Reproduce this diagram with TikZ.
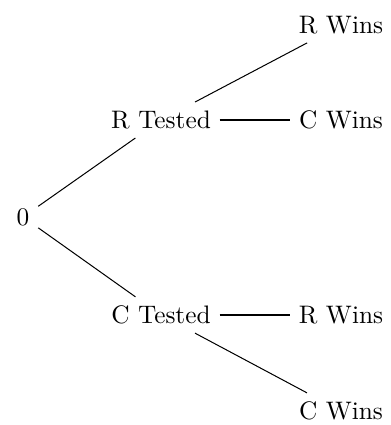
\documentclass[tikz,border=0pt]{standalone}
\begin{document}
\begin{tikzpicture}[x=0.395pt,y=-0.395pt]
\tikzset{lbl/.style={inner sep=3.33pt}}
\useasboundingbox (0,0) rectangle (391,425);
\node[lbl] (root) at (23,217) {0};
\node[lbl] (rt) at (161,120) {R Tested};
\node[lbl] (ct) at (161,315) {C Tested};
\node[lbl] (rw1) at (341,25) {R Wins};
\node[lbl] (cw1) at (341,120) {C Wins};
\node[lbl] (rw2) at (341,315) {R Wins};
\node[lbl] (cw2) at (341,411) {C Wins};
\draw (root) -- (rt);
\draw (root) -- (ct);
\draw (rt) -- (rw1);
\draw (rt) -- (cw1);
\draw (ct) -- (rw2);
\draw (ct) -- (cw2);
\end{tikzpicture}
\end{document}
